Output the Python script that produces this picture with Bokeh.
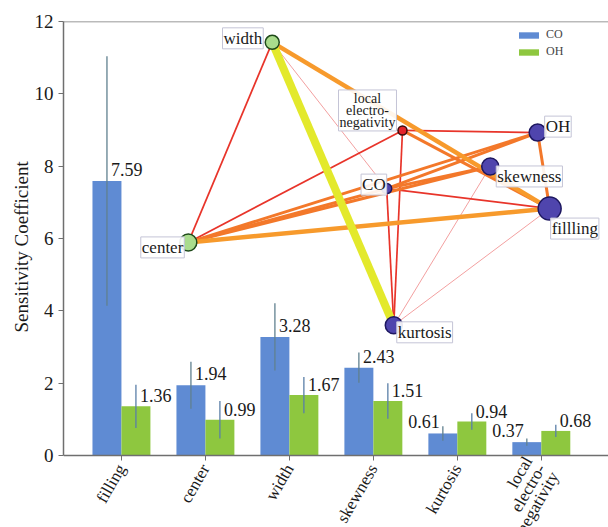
import math
from bokeh.plotting import figure
from bokeh.models import Range1d, Span, ColumnDataSource, FixedTicker, LinearAxis, Title
from bokeh.core.properties import value
from bokeh.embed import file_html
from bokeh.resources import INLINE

# ---------------- data ----------------
categories = ["filling", "center", "width", "skewness", "kurtosis", "local\nelectro-\nnegativity"]
co_values = [7.59, 1.94, 3.28, 2.43, 0.61, 0.37]
oh_values = [1.36, 0.99, 1.67, 1.51, 0.94, 0.68]
co_errors = [3.45, 0.65, 0.93, 0.42, 0.20, 0.10]
oh_errors = [0.60, 0.52, 0.50, 0.49, 0.23, 0.17]
y_ticks = [0, 2, 4, 6, 8, 10, 12]
y_label = "Sensitivity Coefficient"

# network overlay (layout coordinates, 0-100 across the plot area / over the 0-12 axis span)
node_names = ["width", "local\nelectro-\nnegativity", "OH", "skewness", "CO", "fillling", "center", "kurtosis"]
node_x = [38.3, 62.2, 87.0, 78.3, 59.3, 89.2, 22.9, 60.6]
node_y = [95.2, 74.9, 74.4, 66.6, 61.5, 56.9, 49.1, 30.0]
node_group = ["green", "red", "blue", "blue", "blue", "blue", "green", "blue"]
node_weight = [7, 4.5, 8.5, 8.5, 5, 11.5, 8.5, 8.5]
edges = [
    ("width", "CO", 0), ("kurtosis", "skewness", 0), ("kurtosis", "fillling", 0),
    ("width", "center", 1), ("center", "local\nelectro-\nnegativity", 1),
    ("local\nelectro-\nnegativity", "OH", 1), ("local\nelectro-\nnegativity", "kurtosis", 1),
    ("CO", "kurtosis", 1), ("CO", "fillling", 1),
    ("local\nelectro-\nnegativity", "fillling", 2), ("OH", "fillling", 2),
    ("CO", "OH", 2), ("CO", "skewness", 2), ("center", "OH", 2),
    ("center", "skewness", 2), ("center", "CO", 2),
    ("width", "fillling", 3), ("center", "fillling", 3),
    ("width", "kurtosis", 4),
]

# ---------------- styles ----------------
SERIF = "Liberation Serif, serif"
CO_COLOR = "#5f8bd3"
OH_COLOR = "#8ec73f"
tier_style = {0: ("#f3a0a0", 1.0), 1: ("#e8342a", 1.7), 2: ("#f3782a", 3.0),
              3: ("#f79a2c", 4.5), 4: ("#e3e92c", 8.0)}
group_style = {"green": ("#a9dc8c", "#1f4a1a"), "red": ("#e3232b", "#3a0a0a"),
               "blue": ("#4f45ad", "#1d1760")}
label_anchor = {"width": ("right", "middle", -9, -4),
                "local\nelectro-\nnegativity": ("center", "middle", -35, -20),
                "OH": ("left", "middle", 7, -6),
                "skewness": ("left", "middle", 6, 10),
                "CO": ("right", "middle", 0, -4),
                "fillling": ("left", "middle", 1, 20),
                "center": ("right", "middle", -4, 5),
                "kurtosis": ("left", "middle", 3, 7)}

cat_pos = list(range(len(categories)))
Y_LO, Y_HI = -1.99, 12   # space under the zero line holds the category labels
X_LO, X_HI = -0.69, 5.80

p = figure(
    x_range=Range1d(X_LO, X_HI),
    y_range=Range1d(Y_LO, Y_HI),
    width=608, height=527,
    output_backend="svg", toolbar_location=None,
    x_axis_location=None,
    min_border_left=63, min_border_top=21, min_border_right=0, min_border_bottom=0,
)
p.extra_x_ranges = {"net": Range1d(0, 100)}
p.extra_y_ranges = {"net": Range1d(Y_LO / Y_HI * 100, 100)}
p.xgrid.visible = False
p.ygrid.visible = False
p.outline_line_color = None
p.background_fill_color = "white"

bw = 0.345
src = ColumnDataSource(dict(
    pos=cat_pos,
    co_x=[c - bw / 2 for c in cat_pos],
    oh_x=[c + bw / 2 for c in cat_pos],
    co=co_values, oh=oh_values,
    co_lo=[v - e for v, e in zip(co_values, co_errors)],
    co_hi=[v + e for v, e in zip(co_values, co_errors)],
    oh_lo=[v - e for v, e in zip(oh_values, oh_errors)],
    oh_hi=[v + e for v, e in zip(oh_values, oh_errors)],
    co_lbl=[f"{v:.2f}" for v in co_values],
    oh_lbl=[f"{v:.2f}" for v in oh_values],
    co_align=["left", "left", "left", "left", "right", "right"],
    co_xoff=[4, 4, 4, 4, -3, -3],
))

p.vbar(x="co_x", top="co", width=bw, source=src, fill_color=CO_COLOR, line_color=None, legend_label="CO")
p.vbar(x="oh_x", top="oh", width=bw, source=src, fill_color=OH_COLOR, line_color=None, legend_label="OH")
p.segment(x0="co_x", x1="co_x", y0="co_lo", y1="co_hi", source=src, line_color="#60808f", line_width=1.3)
p.segment(x0="oh_x", x1="oh_x", y0="oh_lo", y1="oh_hi", source=src, line_color="#5a7fa8", line_width=1.3)

p.text(x="co_x", y="co", text="co_lbl", source=src, x_offset="co_xoff", y_offset=-5,
       text_align="co_align", text_baseline="bottom",
       text_font=value(SERIF), text_font_size="18px", text_color="#1a1a1a")
p.text(x="oh_x", y="oh", text="oh_lbl", source=src, x_offset=4, y_offset=-4,
       text_align="left", text_baseline="bottom",
       text_font=value(SERIF), text_font_size="18px", text_color="#1a1a1a")

# ---------------- network ----------------
pos = {n: (x, y) for n, x, y in zip(node_names, node_x, node_y)}
edges_sorted = sorted(edges, key=lambda e: e[2])
esrc = ColumnDataSource(dict(
    x0=[pos[a][0] for a, b, t in edges_sorted], y0=[pos[a][1] for a, b, t in edges_sorted],
    x1=[pos[b][0] for a, b, t in edges_sorted], y1=[pos[b][1] for a, b, t in edges_sorted],
    color=[tier_style[t][0] for a, b, t in edges_sorted],
    lw=[tier_style[t][1] for a, b, t in edges_sorted],
))
p.segment(x0="x0", y0="y0", x1="x1", y1="y1", source=esrc, line_color="color", line_width="lw",
          x_range_name="net", y_range_name="net")

nsrc = ColumnDataSource(dict(
    x=node_x, y=node_y, name=node_names,
    size=[2 * w for w in node_weight],
    fill=[group_style[g][0] for g in node_group],
    line=[group_style[g][1] for g in node_group],
    align=[label_anchor[n][0] for n in node_names],
    base=[label_anchor[n][1] for n in node_names],
    xo=[label_anchor[n][2] for n in node_names],
    yo=[label_anchor[n][3] for n in node_names],
    fs=["14px" if "\n" in n else "17px" for n in node_names],
))
p.scatter(x="x", y="y", size="size", fill_color="fill", line_color="line", line_width=1.5,
          source=nsrc, x_range_name="net", y_range_name="net")
p.text(x="x", y="y", text="name", source=nsrc, x_offset="xo", y_offset="yo",
       text_align="align", text_baseline="base", text_font=value(SERIF), text_font_size="fs",
       text_line_height=0.8, text_color="#1a1a1a",
       background_fill_color="white", background_fill_alpha=0.9,
       border_line_color="#c4c4d6", border_line_width=1, padding=1,
       x_range_name="net", y_range_name="net")

# ---------------- axes ----------------
p.add_layout(Span(location=Y_HI, dimension="width", line_color="#777777", line_width=1.5))

xaxis = LinearAxis(fixed_location=0, ticker=FixedTicker(ticks=cat_pos),
                   major_label_overrides={c: name for c, name in zip(cat_pos, categories)})
p.add_layout(xaxis, "below")

p.yaxis.ticker = y_ticks
p.yaxis.bounds = (0, Y_HI)
for ax in (xaxis, p.yaxis[0]):
    ax.major_label_text_font = SERIF
    ax.axis_line_color = "#6f6f6f"
    ax.axis_line_width = 1.5
    ax.major_tick_line_color = "#6f6f6f"
    ax.major_tick_in = 0
    ax.major_tick_out = 5
    ax.minor_tick_line_color = None
    ax.major_label_text_color = "#1a1a1a"
p.yaxis.major_label_text_font_size = "19px"
xaxis.major_label_text_font_size = "17px"
xaxis.major_label_orientation = math.pi / 3
xaxis.major_label_text_line_height = 0.8

# y-axis title (placed in the left panel, measured from the bottom of the plot area)
p.add_layout(Title(text=y_label, align="left", offset=195, standoff=0,
                   text_font=SERIF, text_font_size="19px", text_font_style="normal",
                   text_color="#1a1a1a"), "left")

p.legend.location = (453, 468)
p.legend.border_line_color = None
p.legend.background_fill_alpha = 0
p.legend.label_text_font = SERIF
p.legend.label_text_font_size = "12px"
p.legend.glyph_width = 25
p.legend.glyph_height = 8
p.legend.label_height = 14
p.legend.spacing = 2
p.legend.margin = 0
p.legend.padding = 4

open("out.html", "w").write(file_html(p, INLINE))
